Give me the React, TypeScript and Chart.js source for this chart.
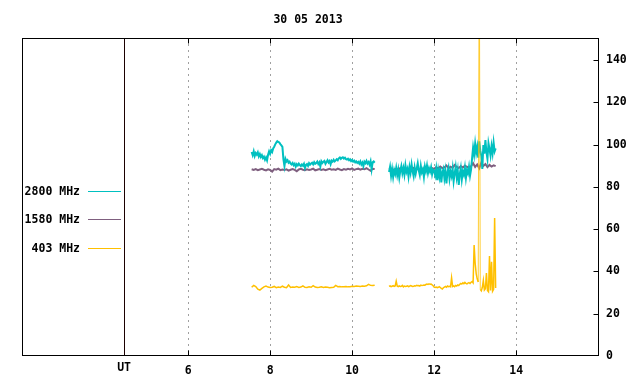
import React, { useEffect, useRef } from 'react';
import { Chart, registerables } from 'chart.js';
Chart.register(...registerables);

const TITLE = '30 05 2013';
const X_MIN = 1.95;
const X_MAX = 16.02;
const Y_MIN = 0;
const Y_MAX = 150.4;
const X_TICKS = [6, 8, 10, 12, 14];
const Y_TICKS = [0, 20, 40, 60, 80, 100, 120, 140];
const UT_POS = 4.44;
const UT_LABEL = 'UT';
const SERIES_NAMES = ['2800 MHz', '1580 MHz', '403 MHz'];
const COLORS = ['#00c0c0', '#7f5f7f', '#ffc000'];

// 2800 MHz, sampled every 0.025 h
const CYAN_START_1 = 7.55;
const CYAN_START_2 = 10.9;
const CYAN_STEP = 0.025;
const cyan1 = [
  96.5, 95.0, 96.8, 94.6, 96.0, 95.2, 96.3, 94.4, 95.5, 94.1, 95.0, 93.6, 94.3,
  92.8, 93.9, 92.5,
  95.2, 96.8, 95.6, 97.3, 96.5,
  98.2, 99.0, 100.1, 100.9, 101.6,
  101.2, 101.0, 100.2, 99.6, 98.9,
  93.0, 89.8,
  93.2, 92.0, 92.6, 91.4, 91.9, 91.0,
  90.6, 91.3, 90.2, 90.9, 89.5, 90.7, 90.1, 91.0, 90.3, 89.8,
  90.6, 90.0, 90.9, 88.9, 90.4, 90.8, 89.9, 91.2, 90.5, 91.0,
  91.4, 90.6, 91.7, 90.9, 91.3, 92.0, 90.8, 91.6, 89.6, 92.1, 91.3, 91.9,
  92.3, 90.9, 91.8, 92.6, 91.5, 92.2, 90.7, 92.4, 91.9, 92.8, 92.0, 92.5,
  93.1, 92.6, 93.5, 93.9, 93.2, 93.7, 94.0, 93.4, 93.8, 93.1, 92.9, 93.3,
  92.6, 93.0, 92.2, 92.7, 91.9, 92.4, 91.6, 92.1, 91.3, 91.8,
  91.0, 92.0, 90.6, 91.5, 89.8, 91.9, 91.2, 92.3, 91.0, 91.7, 90.5, 92.1, 88.3, 91.6, 92.0, 91.4,
];
const cyan2 = [
  87.0, 89.5, 85.2, 88.4, 84.6, 87.9, 86.1, 89.0, 85.5, 88.2,
  84.3, 87.6, 89.8, 86.4, 88.9, 85.8, 90.2, 87.1, 88.6, 84.9,
  89.4, 86.7, 90.6, 87.3, 85.0, 89.1, 86.2, 88.7, 91.2, 87.8,
  85.6, 89.9, 86.9, 88.3, 84.7, 89.6, 87.4, 90.1, 86.5, 88.8,
  87.2, 89.3, 85.9, 88.1, 87.6,
  85.4, 88.6, 83.2, 87.9, 84.8, 89.2, 82.1, 86.7, 88.4, 84.0,
  87.5, 81.6, 86.9, 89.0, 83.8, 87.2, 85.1, 88.7, 82.7, 86.3,
  89.4, 84.5, 87.8, 80.9, 86.0, 88.9, 83.5, 87.3, 85.7, 89.1,
  84.2, 88.0, 86.4, 89.5, 85.3, 88.2,
  93.5, 98.6, 95.2, 100.4, 96.1, 99.0, 93.8, 101.5, 97.2, 94.6,
  88.5, 99.8, 95.7, 102.1, 96.4, 93.2, 100.6, 97.9, 94.8, 99.3,
  95.9, 101.0, 96.8, 98.2,
];

// 1580 MHz, sampled every 0.05 h
const PURPLE_START_1 = 7.55;
const PURPLE_START_2 = 10.9;
const PURPLE_STEP = 0.05;
const purple1 = [
  88.3, 88.0, 88.4, 87.9, 88.2, 88.5, 88.1, 87.8, 88.3, 88.0,
  87.2, 88.4, 88.1, 88.6, 87.9, 88.2, 88.0, 88.3, 87.7, 88.1,
  88.4, 88.0, 87.4, 88.2, 88.5, 88.1, 87.9, 88.3, 88.0, 88.2,
  88.6, 87.8, 88.1, 88.4, 88.0, 88.3, 87.9, 88.2, 88.5, 88.1,
  88.3, 88.0, 88.6, 88.2, 87.9, 88.4, 88.1, 88.5, 88.2, 88.7,
  88.0, 88.4, 88.6, 88.1, 88.5, 88.3, 88.8, 88.2, 87.6, 88.5,
  88.4,
];
const purple2 = [
  88.2, 88.6, 87.9, 88.4, 88.1, 88.7, 88.0, 88.5, 88.3, 87.8,
  88.6, 88.2, 88.9, 88.1, 88.5, 87.9, 88.4, 88.8, 88.2, 88.6,
  88.3, 88.9, 88.5, 89.3, 88.7, 89.6, 88.9, 89.2, 90.1, 88.8,
  89.5, 89.0, 90.3, 89.4, 88.9, 89.8, 89.2, 90.0, 89.5, 89.1,
  89.7, 91.2, 89.4, 90.6, 88.8, 91.5, 89.9, 90.8, 89.3, 90.4,
  89.6, 90.2, 89.8,
];

// 403 MHz
const ORANGE_START_1 = 7.55;
const ORANGE_STEP_1 = 0.05;
const orange1 = [
  32.5, 33.4, 32.8, 31.6, 31.2, 32.0, 32.7, 33.1, 32.6, 32.4,
  32.5, 32.9, 32.3, 32.6, 32.4, 33.0, 32.5, 32.3, 33.6, 32.4,
  32.6, 32.5, 32.8, 32.4, 32.6, 33.2, 32.5, 32.4, 32.7, 32.5,
  33.3, 32.6, 32.4, 32.5, 32.7, 32.4, 32.6, 32.5, 32.3, 32.4,
  32.5, 33.4, 32.8, 32.9, 32.7, 32.8, 32.9, 32.7, 32.8, 33.0,
  32.9, 33.1, 33.0, 32.9, 33.1, 33.0, 33.2, 33.9, 33.4, 33.3,
  33.5,
];
const ORANGE_START_2 = 10.9;
const ORANGE_STEP_2 = 0.025;
const orange2 = [
  32.9, 33.2, 32.8, 33.0, 33.3, 32.9, 33.1, 35.4, 33.0, 32.8,
  33.2, 32.9, 33.0, 33.4, 32.7, 33.1, 32.9, 33.0, 33.2, 32.8,
  33.0, 33.3, 33.1, 32.9, 33.0, 33.2, 33.1, 33.4, 33.2, 33.3,
  33.1, 33.5, 33.3, 33.4, 33.6, 33.5, 33.8,
  34.0, 33.8, 34.1, 33.9, 34.0, 33.7, 33.2, 32.6,
  32.4, 32.6, 32.3, 32.5, 32.8, 32.4, 32.0, 31.7, 32.3, 32.6,
  32.9, 32.5, 33.1, 32.8, 33.0, 32.7, 37.0, 32.9, 33.2, 32.8,
  33.4, 33.1, 33.6, 33.3,
  33.9, 34.3, 34.0, 34.6, 34.2, 34.8, 34.4, 34.1, 34.5, 34.7,
  34.3, 34.9, 35.2, 34.6,
  52.5, 44.0, 39.0, 36.5, 35.0, 200.0, 31.5, 30.8, 32.5, 35.8,
  31.2, 31.8, 39.2, 31.0, 30.4, 47.3, 31.0, 44.6, 30.6, 31.5,
  65.3, 32.2,
];

const GAP_X = 10.7;

function toPoints(start: number, step: number, values: number[]) {
  return values.map((v, i) => ({ x: +(start + i * step).toFixed(4), y: v }));
}

function joinSegments(a: { x: number; y: number | null }[], b: { x: number; y: number | null }[]) {
  return [...a, { x: GAP_X, y: null }, ...b];
}

const FONT_FAMILY = '"DejaVu Sans Mono", "Liberation Mono", monospace';
const FONT_SIZE = 11.5;

export default function App() {
  const canvasRef = useRef<HTMLCanvasElement | null>(null);

  useEffect(() => {
    document.body.style.margin = '0';
    const canvas = canvasRef.current;
    if (!canvas) return;

    const decor = {
      id: 'decor',
      beforeDatasetsDraw(chart: any) {
        const { ctx, chartArea: a, scales } = chart;
        const xs = scales.x;
        ctx.save();
        ctx.lineWidth = 1;
        ctx.strokeStyle = '#a0a0a0';
        ctx.setLineDash([2, 4]);
        X_TICKS.forEach((v) => {
          const px = Math.round(xs.getPixelForValue(v)) + 0.5;
          ctx.beginPath();
          ctx.moveTo(px, a.top);
          ctx.lineTo(px, a.bottom);
          ctx.stroke();
        });
        ctx.setLineDash([]);
        const ux = Math.round(xs.getPixelForValue(UT_POS)) + 0.5;
        ctx.strokeStyle = '#1a0000';
        ctx.beginPath();
        ctx.moveTo(ux, a.top);
        ctx.lineTo(ux, a.bottom);
        ctx.stroke();
        ctx.restore();
      },
      afterDraw(chart: any) {
        const { ctx, chartArea: a, scales } = chart;
        const xs = scales.x;
        const ys = scales.y;
        ctx.save();
        ctx.lineWidth = 1;
        ctx.strokeStyle = '#000';
        const L = Math.round(a.left) + 0.5;
        const R = Math.round(a.right) - 0.5;
        const T = Math.round(a.top) + 0.5;
        const B = Math.round(a.bottom) - 0.5;
        ctx.strokeRect(L, T, R - L, B - T);
        ctx.beginPath();
        Y_TICKS.forEach((v) => {
          const py = Math.round(ys.getPixelForValue(v)) + 0.5;
          if (v === 0) return;
          ctx.moveTo(R - 5, py);
          ctx.lineTo(R, py);
        });
        X_TICKS.forEach((v) => {
          const px = Math.round(xs.getPixelForValue(v)) + 0.5;
          ctx.moveTo(px, B - 5);
          ctx.lineTo(px, B);
          ctx.moveTo(px, T);
          ctx.lineTo(px, T + 5);
        });
        ctx.stroke();

        ctx.fillStyle = '#000';
        ctx.font = `bold ${FONT_SIZE}px ${FONT_FAMILY}`;
        ctx.textBaseline = 'middle';
        ctx.textAlign = 'center';
        ctx.fillText(TITLE, 308, 20);
        ctx.fillText(UT_LABEL, xs.getPixelForValue(UT_POS), 368);

        const legendY = [191, 219, 248];
        SERIES_NAMES.forEach((name, i) => {
          ctx.textAlign = 'right';
          ctx.fillStyle = '#000';
          ctx.fillText(name, 80, legendY[i] + 1);
          ctx.strokeStyle = COLORS[i];
          ctx.beginPath();
          ctx.moveTo(88, legendY[i] + 0.5);
          ctx.lineTo(121, legendY[i] + 0.5);
          ctx.stroke();
        });
        ctx.restore();
      },
    };

    const tickFont = { family: FONT_FAMILY, size: FONT_SIZE, weight: 'bold' as const };

    const chart = new Chart(canvas, {
      type: 'line',
      data: {
        datasets: [
          {
            label: SERIES_NAMES[2],
            data: joinSegments(
              toPoints(ORANGE_START_1, ORANGE_STEP_1, orange1),
              toPoints(ORANGE_START_2, ORANGE_STEP_2, orange2)
            ),
            borderColor: COLORS[2],
            borderWidth: 1.5,
            order: 0,
            segment: {
              borderWidth: (c: any) =>
                c.p0.parsed.y > Y_MAX || c.p1.parsed.y > Y_MAX ? 0.8 : undefined,
            },
          },
          {
            label: SERIES_NAMES[0],
            data: joinSegments(
              toPoints(CYAN_START_1, CYAN_STEP, cyan1),
              toPoints(CYAN_START_2, CYAN_STEP, cyan2)
            ),
            borderColor: COLORS[0],
            borderWidth: 2,
            order: 1,
          },
          {
            label: SERIES_NAMES[1],
            data: joinSegments(
              toPoints(PURPLE_START_1, PURPLE_STEP, purple1),
              toPoints(PURPLE_START_2, PURPLE_STEP, purple2)
            ),
            borderColor: COLORS[1],
            borderWidth: 2,
            order: 2,
          },
        ],
      },
      options: {
        animation: false,
        responsive: false,
        devicePixelRatio: 1,
        spanGaps: false,
        elements: { point: { radius: 0 }, line: { tension: 0 } },
        layout: { padding: { left: 22, top: 38, right: 0, bottom: 0 } },
        plugins: {
          legend: { display: false },
          tooltip: { enabled: false },
          title: { display: false },
        },
        scales: {
          x: {
            type: 'linear',
            min: X_MIN,
            max: X_MAX,
            afterBuildTicks: (s: any) => {
              s.ticks = X_TICKS.map((v) => ({ value: v }));
            },
            afterFit: (s: any) => {
              s.height = 28;
            },
            grid: { display: false, drawTicks: false },
            border: { display: false },
            ticks: {
              padding: 8,
              color: '#000',
              font: tickFont,
              maxRotation: 0,
              autoSkip: false,
              callback: (v: any) => String(v),
            },
          },
          y: {
            type: 'linear',
            position: 'right',
            min: Y_MIN,
            max: Y_MAX,
            afterBuildTicks: (s: any) => {
              s.ticks = Y_TICKS.map((v) => ({ value: v }));
            },
            afterFit: (s: any) => {
              s.width = 41;
            },
            grid: { display: false, drawTicks: false },
            border: { display: false },
            ticks: {
              padding: 7,
              color: '#000',
              font: tickFont,
              autoSkip: false,
              callback: (v: any) => String(v),
            },
          },
        },
      },
      plugins: [decor],
    });

    return () => {
      chart.destroy();
    };
  }, []);

  return (
    <div style={{ width: 640, height: 384, background: '#fff' }}>
      <canvas ref={canvasRef} width={640} height={384} style={{ display: 'block' }} />
    </div>
  );
}
